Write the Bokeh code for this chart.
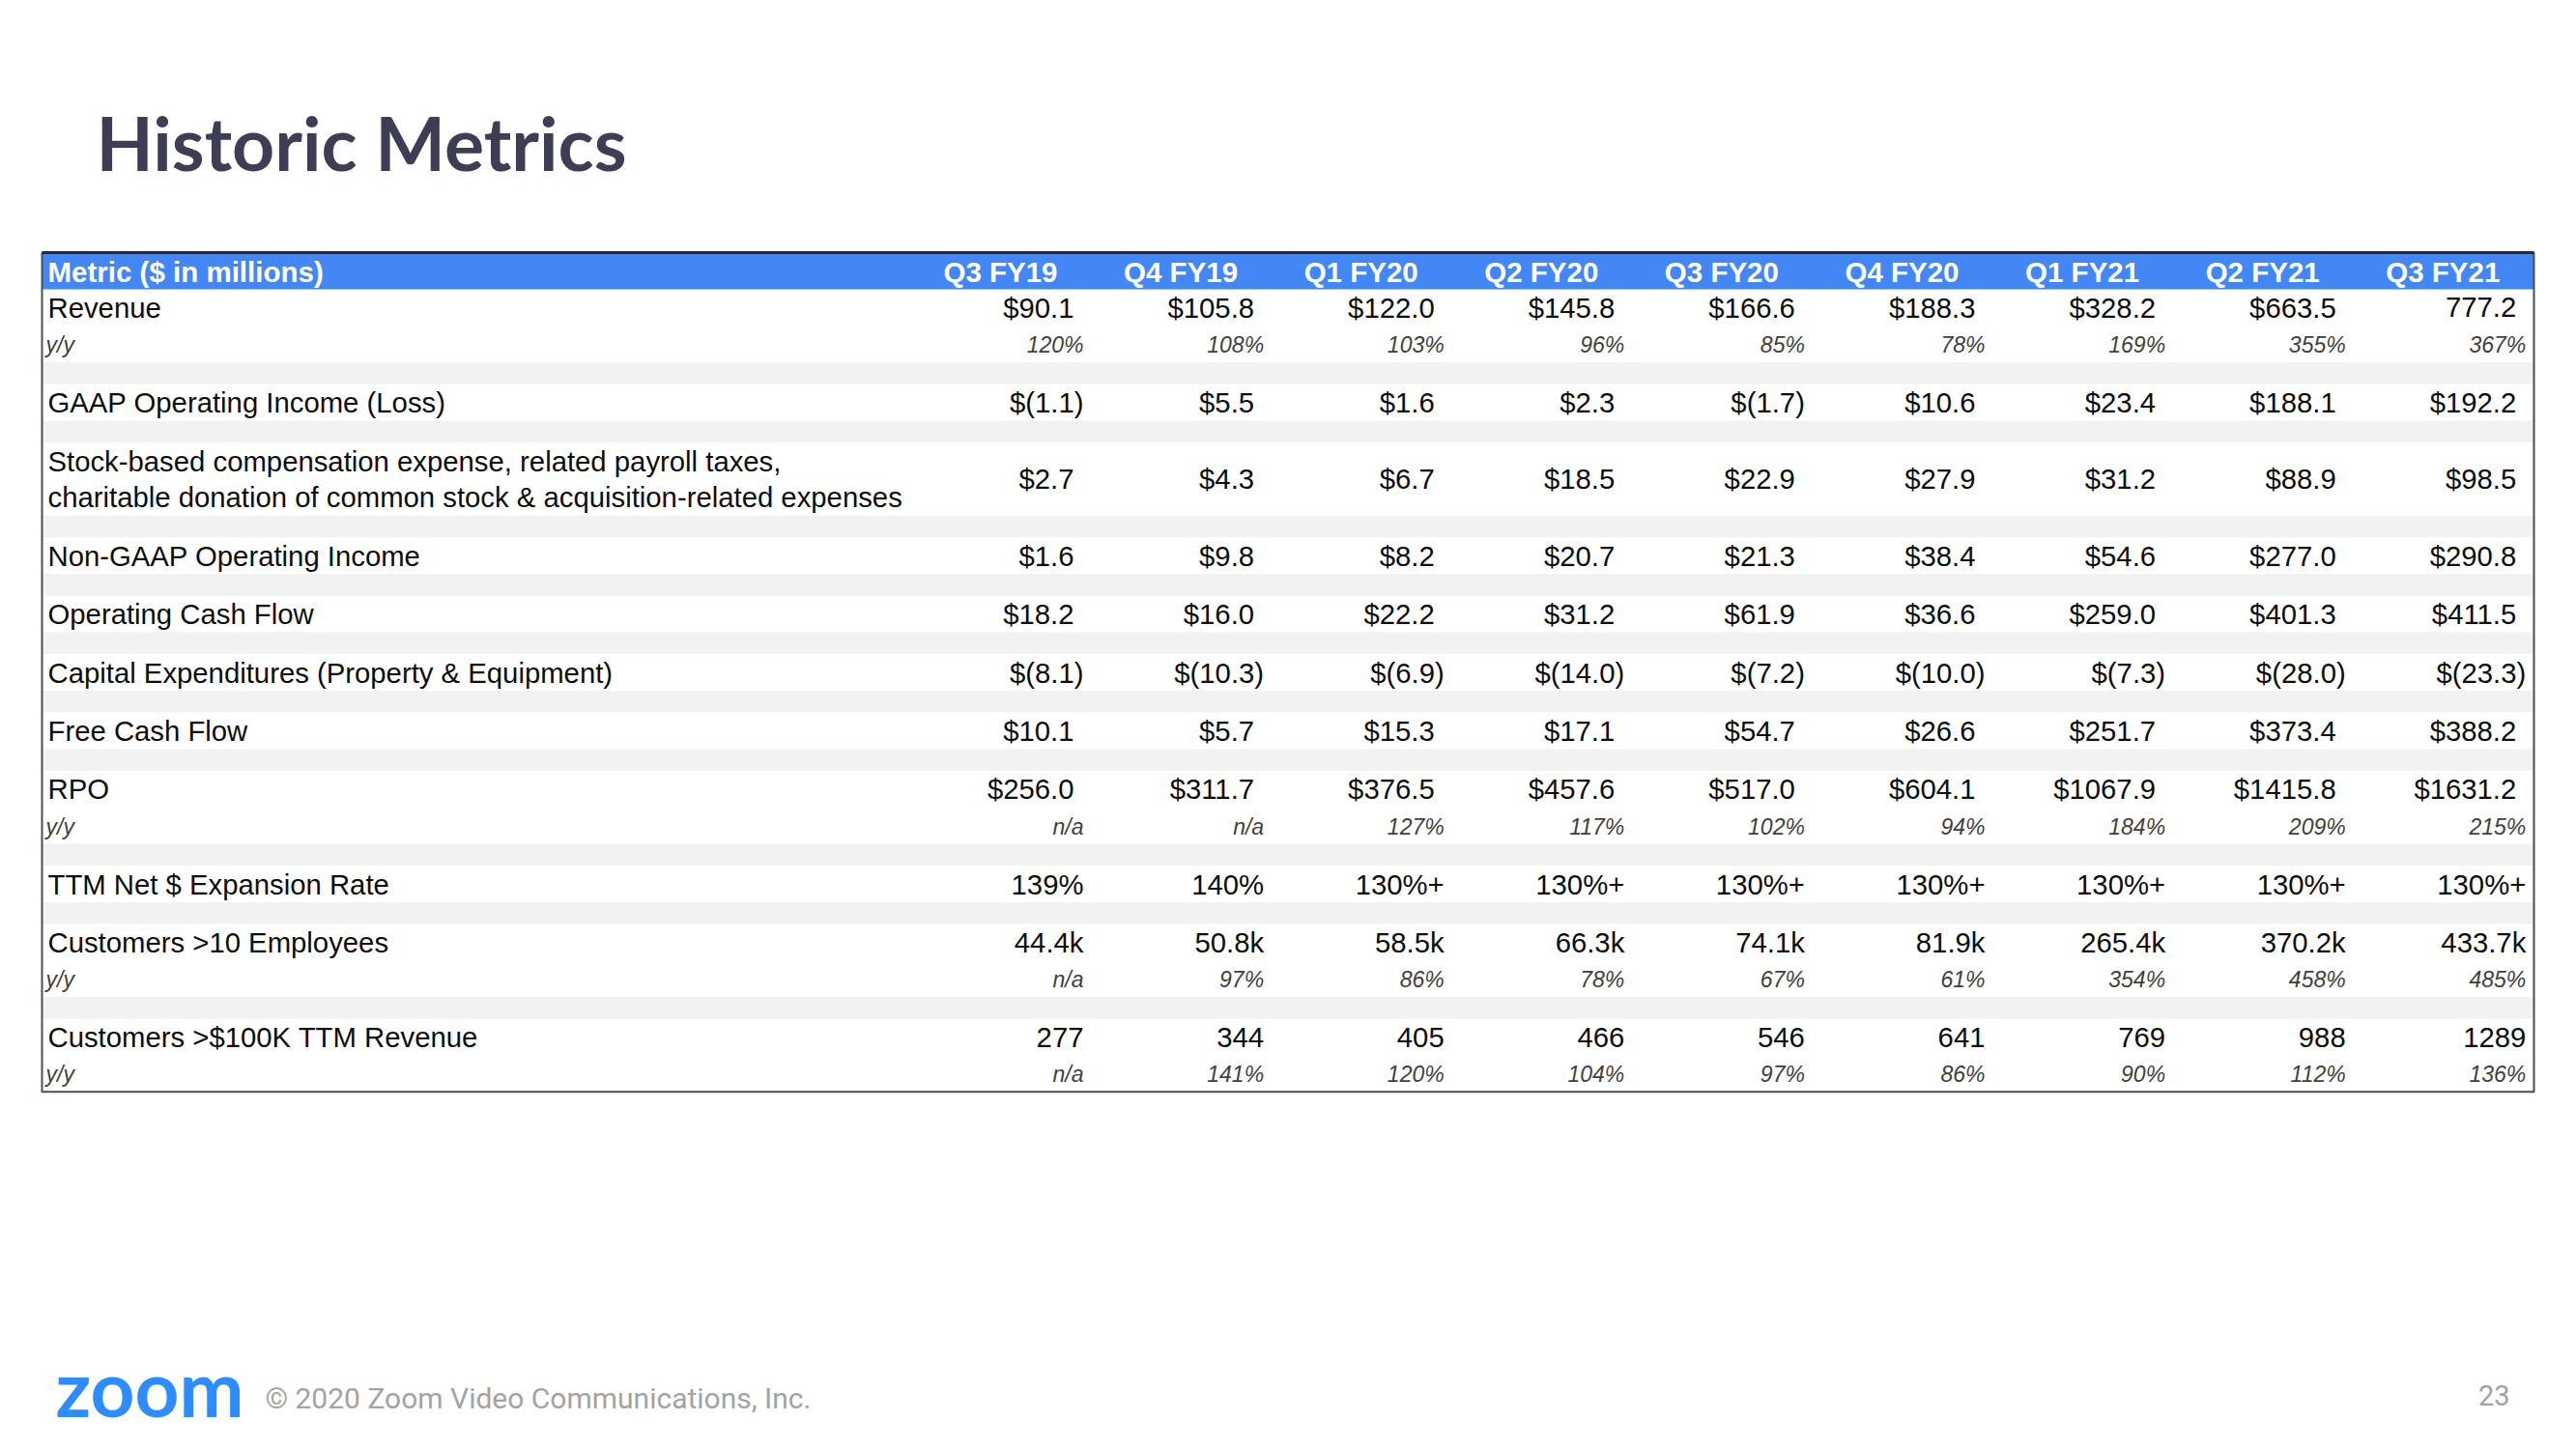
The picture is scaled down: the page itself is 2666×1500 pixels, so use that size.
from bokeh.plotting import figure
from bokeh.models import Range1d, ColumnDataSource
from bokeh.core.properties import value
from bokeh.embed import file_html
from bokeh.resources import INLINE

# ---------------- data ----------------
quarters = ["Q3 FY19", "Q4 FY19", "Q1 FY20", "Q2 FY20", "Q3 FY20",
            "Q4 FY20", "Q1 FY21", "Q2 FY21", "Q3 FY21"]
revenue = [90.1, 105.8, 122.0, 145.8, 166.6, 188.3, 328.2, 663.5, 777.2]
revenue_yy = [120, 108, 103, 96, 85, 78, 169, 355, 367]
gaap_oi = [-1.1, 5.5, 1.6, 2.3, -1.7, 10.6, 23.4, 188.1, 192.2]
sbc = [2.7, 4.3, 6.7, 18.5, 22.9, 27.9, 31.2, 88.9, 98.5]
non_gaap_oi = [1.6, 9.8, 8.2, 20.7, 21.3, 38.4, 54.6, 277.0, 290.8]
ocf = [18.2, 16.0, 22.2, 31.2, 61.9, 36.6, 259.0, 401.3, 411.5]
capex = [-8.1, -10.3, -6.9, -14.0, -7.2, -10.0, -7.3, -28.0, -23.3]
fcf = [10.1, 5.7, 15.3, 17.1, 54.7, 26.6, 251.7, 373.4, 388.2]
rpo = [256.0, 311.7, 376.5, 457.6, 517.0, 604.1, 1067.9, 1415.8, 1631.2]
rpo_yy = [None, None, 127, 117, 102, 94, 184, 209, 215]
net_expansion = ["139%", "140%", "130%+", "130%+", "130%+", "130%+", "130%+", "130%+", "130%+"]
cust10_k = [44.4, 50.8, 58.5, 66.3, 74.1, 81.9, 265.4, 370.2, 433.7]
cust10_yy = [None, 97, 86, 78, 67, 61, 354, 458, 485]
cust100k = [277, 344, 405, 466, 546, 641, 769, 988, 1289]
cust100k_yy = [None, 141, 120, 104, 97, 86, 90, 112, 136]

row_labels = [
    ["Revenue"],
    ["GAAP Operating Income (Loss)"],
    ["Stock-based compensation expense, related payroll taxes,",
     "charitable donation of common stock & acquisition-related expenses"],
    ["Non-GAAP Operating Income"],
    ["Operating Cash Flow"],
    ["Capital Expenditures (Property & Equipment)"],
    ["Free Cash Flow"],
    ["RPO"],
    ["TTM Net $ Expansion Rate"],
    ["Customers >10 Employees"],
    ["Customers >$100K TTM Revenue"],
]


def money(v):
    return f"$({-v:.1f})" if v < 0 else f"${v:.1f}"


def pct(v):
    return "n/a" if v is None else f"{v}%"


revenue_txt = [money(v) for v in revenue]
revenue_txt[-1] = f"{revenue[-1]:.1f}"   # shown without "$" on the slide

rows = [
    (revenue_txt, True, [pct(v) for v in revenue_yy]),
    ([money(v) for v in gaap_oi], True, None),
    ([money(v) for v in sbc], True, None),
    ([money(v) for v in non_gaap_oi], True, None),
    ([money(v) for v in ocf], True, None),
    ([money(v) for v in capex], True, None),
    ([money(v) for v in fcf], True, None),
    ([money(v) for v in rpo], True, [pct(v) for v in rpo_yy]),
    (net_expansion, False, None),
    ([f"{v:.1f}k" for v in cust10_k], False, [pct(v) for v in cust10_yy]),
    ([str(v) for v in cust100k], False, [pct(v) for v in cust100k_yy]),
]

# ---------------- layout ----------------
W, H = 2650, 1484
p = figure(width=W, height=H, x_range=Range1d(0, W), y_range=Range1d(H, 0),
           output_backend="svg", toolbar_location=None, min_border=0,
           x_axis_type=None, y_axis_type=None, title=None)
p.grid.visible = False
p.outline_line_color = None
p.background_fill_color = "white"
p.border_fill_color = "white"

TL, TR = 43, 2622          # table left / right
HT, HB = 261, 299          # header top / bottom
LINE = 37.8                # line height
GAP = 22.6                 # gray separator height
LABEL_X = 49
COL_R0, COL_STEP = 1121, 186.6
MONEY_PAD = 10
FONT = value("Liberation Sans")
BODY = "29.3px"
SMALL = "23px"

col_right = [COL_R0 + COL_STEP * i for i in range(len(quarters))]

# header
p.quad(left=[TL], right=[TR], top=[HT], bottom=[HB], fill_color="#4287f5", line_color=None)
p.text(x=[LABEL_X], y=[281], text=["Metric ($ in millions)"], text_font=FONT,
       text_font_size="29.5px", text_font_style="bold", text_color="white",
       text_baseline="middle", text_align="left")
p.text(x=[r - 86 for r in col_right], y=[281] * len(quarters), text=quarters, text_font=FONT,
       text_font_size="29.5px", text_font_style="bold", text_color="white",
       text_baseline="middle", text_align="center")

lab = dict(x=[], y=[], t=[])
val = dict(x=[], y=[], t=[])
yyl = dict(x=[], y=[], t=[])
yyv = dict(x=[], y=[], t=[])
gl, gr, gt, gb = [], [], [], []

y0 = HB
for k, (labels, (vals, is_money, yys)) in enumerate(zip(row_labels, rows)):
    n = max(len(labels), 2 if yys else 1)
    for j, s in enumerate(labels):
        lab["x"].append(LABEL_X)
        lab["y"].append(y0 + LINE * (j + 0.5))
        lab["t"].append(s)
    vy = y0 + LINE * 0.5 if yys else y0 + LINE * n / 2
    for r, s in zip(col_right, vals):
        x = r
        if is_money and not s.endswith(")"):
            x = r - MONEY_PAD
        val["x"].append(x)
        val["y"].append(vy)
        val["t"].append(s)
    if yys:
        yline = y0 + LINE * 1.5 + 1
        yyl["x"].append(LABEL_X - 2)
        yyl["y"].append(yline)
        yyl["t"].append("y/y")
        for r, s in zip(col_right, yys):
            yyv["x"].append(r)
            yyv["y"].append(yline)
            yyv["t"].append(s)
    y0 += LINE * n
    if k < len(row_labels) - 1:
        gl.append(TL); gr.append(TR); gt.append(y0); gb.append(y0 + GAP)
        y0 += GAP

table_bottom = y0

p.quad(left=gl, right=gr, top=gt, bottom=gb, fill_color="#f2f2f2", line_color=None)

p.text(x="x", y="y", text="t", source=ColumnDataSource(lab), text_font=FONT,
       text_font_size=BODY, text_color="#0d0d0d", text_baseline="middle", text_align="left")
p.text(x="x", y="y", text="t", source=ColumnDataSource(val), text_font=FONT,
       text_font_size=BODY, text_color="#0d0d0d", text_baseline="middle", text_align="right")
p.text(x="x", y="y", text="t", source=ColumnDataSource(yyv), text_font=FONT,
       text_font_size=SMALL, text_font_style="italic", text_color="#404040",
       text_baseline="middle", text_align="right")
p.text(x="x", y="y", text="t", source=ColumnDataSource(yyl), text_font=FONT,
       text_font_size=SMALL, text_font_style="italic", text_color="#404040",
       text_baseline="middle", text_align="left")

# borders
p.quad(left=[TL], right=[TR], top=[HT], bottom=[table_bottom], fill_color=None,
       line_color="#4d4d4d", line_width=2)
p.segment(x0=[TL], x1=[TR], y0=[HT], y1=[HT], line_color="#1e2b48", line_width=3)

# title
p.text(x=[99], y=[146], text=["Historic Metrics"], text_font=value("Lato"),
       text_font_size="77px", text_font_style="bold", text_color="#3d3d55",
       text_baseline="middle", text_align="left")

# footer
p.text(x=[57], y=[1435], text=["zoom"], text_font=value("Lato"),
       text_font_size="80px", text_font_style="bold", text_color="#2d8cff",
       text_baseline="middle", text_align="left")
p.text(x=[274], y=[1447], text=["© 2020 Zoom Video Communications, Inc."],
       text_font=value("Roboto"), text_font_size="30px", text_color="#a3a3a3",
       text_baseline="middle", text_align="left")
p.text(x=[2597], y=[1444], text=["23"], text_font=value("Roboto"),
       text_font_size="29px", text_color="#a3a3a3",
       text_baseline="middle", text_align="right")

open("out.html", "w").write(file_html(p, INLINE))
